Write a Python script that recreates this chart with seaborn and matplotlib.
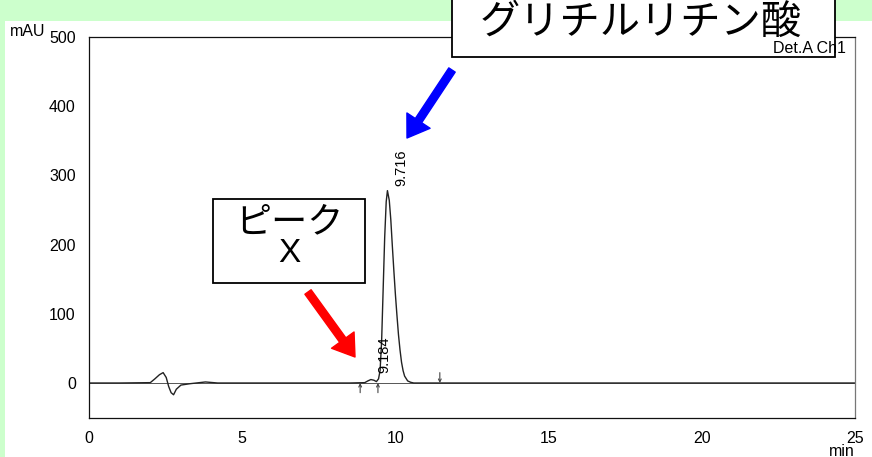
import matplotlib
matplotlib.use("Agg")
import matplotlib.pyplot as plt
import numpy as np
import pandas as pd
import seaborn as sns
from matplotlib.patches import Rectangle

# chromatogram trace (min, mAU)
time_min = [0.0, 1.0, 2.0, 2.15, 2.3, 2.42, 2.52, 2.6, 2.68, 2.76, 2.85, 3.0, 3.3, 3.6,
            3.8, 4.2, 8.5, 9.0, 9.1, 9.2, 9.3, 9.38, 9.45, 9.5, 9.55, 9.6, 9.65, 9.7,
            9.74, 9.8, 9.85, 9.9, 9.95, 10.0, 10.05, 10.1, 10.15, 10.2, 10.25, 10.3,
            10.4, 10.5, 10.6, 11.0, 25.0]
signal_mau = [0.0, 0.0, 0.5, 6, 12, 15, 8, -5, -14, -17, -9, -3, -1, 0.5,
              1.5, 0.0, 0.0, 0.5, 3, 5, 4, 2, 6, 18, 60, 135, 210, 262,
              278, 264, 236, 198, 162, 128, 98, 70, 48, 30, 18, 10,
              3, 1, 0.0, 0.0, 0.0]

peak_times = ["9.716", "9.184"]
peak_label_x = [10.18, 9.63]
peak_label_y = [285, 14]

# integration marks on the baseline
mark_up = [8.85, 9.43]
mark_down = [11.45]

x_ticks = [0, 5, 10, 15, 20, 25]
y_ticks = [0, 100, 200, 300, 400, 500]

W, H = 872, 457

sns.set_style("white")
plt.rcParams["font.family"] = ["Liberation Sans", "DejaVu Sans"]
plt.rcParams["text.color"] = "black"
plt.rcParams["xtick.labelcolor"] = "black"
plt.rcParams["ytick.labelcolor"] = "black"

fig = plt.figure(figsize=(W / 100, H / 100), dpi=100)
fig.patch.set_facecolor("#ccffcc")


def fx(px):
    return px / W


def fy(py):
    return 1 - py / H


# white panel
fig.add_artist(Rectangle((fx(5), 0), 1, fy(21), transform=fig.transFigure,
                         facecolor="white", edgecolor="none", zorder=-1))

ax = fig.add_axes([fx(89), fy(417.6), fx(855 - 89), (417.6 - 37) / H])
ax.set_facecolor("none")

df = pd.DataFrame({"t": time_min, "mAU": signal_mau})
sns.lineplot(data=df, x="t", y="mAU", ax=ax, color="#222222", linewidth=1.0,
             estimator=None, sort=False)

ax.set_xlim(0, 25)
ax.set_ylim(-50, 500)
ax.set_xticks(x_ticks)
ax.set_yticks(y_ticks)
ax.set_xticks(np.arange(0, 26, 1), minor=True)
ax.set_yticks(np.arange(-40, 500, 20), minor=True)
ax.tick_params(axis="both", which="major", direction="out", length=8, width=0.9,
               labelsize=11.5, color="#111111", pad=1.5)
ax.tick_params(axis="both", which="minor", direction="out", length=4, width=0.8,
               color="#333333")
ax.set_xlabel("")
ax.set_ylabel("")
for side in ["left", "bottom", "top"]:
    ax.spines[side].set_color("#111111")
    ax.spines[side].set_linewidth(0.9)
ax.spines["right"].set_color("#777777")
ax.spines["right"].set_linewidth(0.9)

# baseline
ax.axhline(0, color="#555555", linewidth=0.7, zorder=1)

for lab, px, py in zip(peak_times, peak_label_x, peak_label_y):
    ax.text(px, py, lab, rotation=90, ha="center", va="bottom", fontsize=10.5)

for t in mark_up:
    ax.annotate("", xy=(t, 0), xytext=(t, -14),
                arrowprops=dict(arrowstyle="->", color="#444444", lw=0.8,
                                mutation_scale=5, shrinkA=0, shrinkB=0))
for t in mark_down:
    ax.annotate("", xy=(t, 0), xytext=(t, 15),
                arrowprops=dict(arrowstyle="->", color="#444444", lw=0.8,
                                mutation_scale=5, shrinkA=0, shrinkB=0))

fig.text(fx(10), fy(31), "mAU", ha="left", va="center", fontsize=11.5)
fig.text(fx(842), fy(451), "min", ha="center", va="center", fontsize=11.5)

jp = ["Noto Sans CJK JP", "DejaVu Sans"]

# label boxes
fig.add_artist(Rectangle((fx(452), fy(57)), fx(835 - 452), (57 + 5) / H,
                         transform=fig.transFigure, facecolor="white",
                         edgecolor="black", linewidth=1.3, zorder=3))
fig.text(fx(641), fy(22), "グリチルリチン酸", ha="center", va="center",
         fontsize=29, family=jp, zorder=4)

fig.add_artist(Rectangle((fx(213), fy(283)), fx(365 - 213), (283 - 199) / H,
                         transform=fig.transFigure, facecolor="white",
                         edgecolor="black", linewidth=1.3, zorder=3))
fig.text(fx(289), fy(222), "ピーク", ha="center", va="center", fontsize=26,
         family=jp, zorder=4)
fig.text(fx(289), fy(254), "X", ha="center", va="center", fontsize=24,
         zorder=4)

fig.text(fx(773), fy(48.5), "Det.A Ch1", ha="left", va="center", fontsize=11.5,
         zorder=5)

# arrows
arrow_style = "simple,head_length=1.5,head_width=2.0,tail_width=0.55"
ax.annotate("", xy=(407, H - 138), xytext=(452, H - 70), xycoords="figure pixels",
            textcoords="figure pixels",
            arrowprops=dict(arrowstyle=arrow_style, color="#0000ff",
                            mutation_scale=10, shrinkA=0, shrinkB=0))
ax.annotate("", xy=(355, H - 357), xytext=(308, H - 292), xycoords="figure pixels",
            textcoords="figure pixels",
            arrowprops=dict(arrowstyle=arrow_style, color="#ff0000",
                            mutation_scale=10, shrinkA=0, shrinkB=0))

fig.savefig("out.png", dpi=100, facecolor=fig.get_facecolor())
